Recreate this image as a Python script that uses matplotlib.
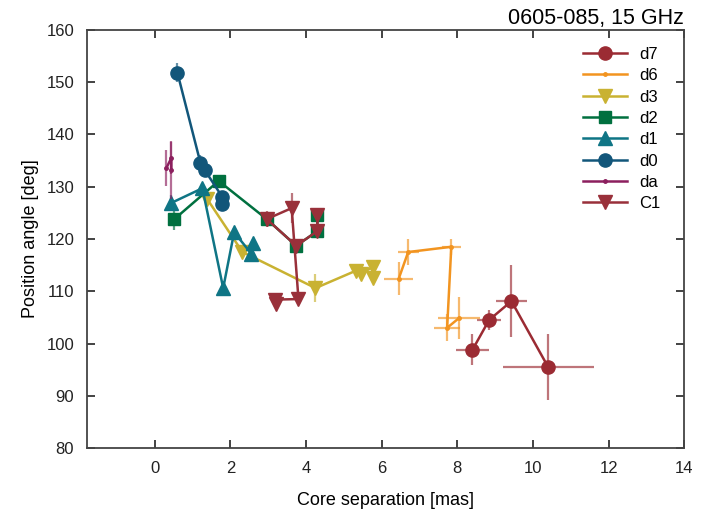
import matplotlib
matplotlib.use('Agg')
import matplotlib.pyplot as plt

plt.rcParams['font.family'] = ['Liberation Sans', 'DejaVu Sans']

# component data: core separation [mas], position angle [deg], errors
d7_x = [8.40, 8.84, 9.43, 10.40]
d7_y = [98.8, 104.5, 108.1, 95.5]
d7_xerr = [0.44, 0.32, 0.40, 1.20]
d7_yerr = [3.0, 2.0, 6.9, 6.4]

d6_x = [6.45, 6.70, 7.84, 7.73, 8.05]
d6_y = [112.4, 117.5, 118.5, 103.0, 104.9]
d6_xerr = [0.38, 0.28, 0.25, 0.35, 0.55]
d6_yerr = [3.2, 2.4, 1.5, 2.6, 4.0]

d3_x = [1.39, 2.32, 4.25, 5.31, 5.44, 5.78, 5.78]
d3_y = [127.6, 117.5, 110.6, 113.9, 113.3, 114.7, 112.6]
d3_yerr = [0.8, 0.8, 2.7, 0.8, 0.8, 0.8, 0.8]

d2_x = [0.52, 1.69, 2.96, 3.74, 4.30, 4.30]
d2_y = [123.8, 131.1, 123.8, 118.7, 121.5, 124.6]
d2_yerr = [2.0, 0.8, 1.0, 0.8, 1.0, 1.0]

d1_x = [0.44, 1.26, 1.81, 2.10, 2.55, 2.60]
d1_y = [126.9, 129.7, 110.6, 121.3, 117.2, 119.2]
d1_yerr = [1.5, 1.0, 0.8, 0.8, 1.5, 0.8]

d0_x = [0.60, 1.21, 1.32, 1.79, 1.79]
d0_y = [151.8, 134.5, 133.2, 128.0, 126.6]
d0_yerr = [1.8, 1.5, 1.0, 1.0, 1.0]

da_x = [0.31, 0.44, 0.44]
da_y = [133.6, 135.5, 133.2]
da_yerr = [3.5, 3.0, 5.5]

c1_x = [3.20, 3.19, 3.80, 3.62, 2.96, 3.74, 4.30, 4.30]
c1_y = [107.5, 108.4, 108.5, 125.9, 123.8, 118.7, 121.5, 124.6]
c1_yerr = [0.8, 0.8, 0.8, 2.8, 1.5, 0.8, 1.0, 0.8]

fig = plt.figure(figsize=(7.28, 5.15), dpi=100)
ax = fig.add_axes([0.119, 0.130, 0.821, 0.812])

series = [
    ('d7', d7_x, d7_y, d7_xerr, d7_yerr, '#9b2b33', 'o', 9.5),
    ('d6', d6_x, d6_y, d6_xerr, d6_yerr, '#f29420', '.', 5),
    ('d3', d3_x, d3_y, None, d3_yerr, '#c9b232', 'v', 9.5),
    ('d2', d2_x, d2_y, None, d2_yerr, '#00703f', 's', 8.5),
    ('d1', d1_x, d1_y, None, d1_yerr, '#0f7585', '^', 9.5),
    ('d0', d0_x, d0_y, None, d0_yerr, '#12567a', 'o', 9.5),
    ('da', da_x, da_y, None, da_yerr, '#8c1f5e', '.', 5),
    ('C1', c1_x, c1_y, None, c1_yerr, '#99303a', 'v', 9.5),
]

for name, x, y, xe, ye, c, m, ms in series:
    ax.errorbar(x, y, xerr=xe, yerr=ye, fmt='none', ecolor=c, alpha=0.65,
                elinewidth=1.6, capsize=0)
    ax.plot(x, y, color=c, marker=m, markersize=ms, linewidth=1.8, label=name)

ax.legend(loc='upper right', frameon=False, fontsize=12, handlelength=2.6,
          labelspacing=0.38, handletextpad=0.75,
          bbox_to_anchor=(0.985, 0.995))

ax.set_xlim(-1.8, 14)
ax.set_ylim(80, 160)
ax.set_xticks([0, 2, 4, 6, 8, 10, 12, 14])
ax.set_yticks([80, 90, 100, 110, 120, 130, 140, 150, 160])
ax.tick_params(direction='in', length=6, width=1.2, top=True, right=True,
               labelsize=12, colors='#222222', pad=9)
for s in ax.spines.values():
    s.set_color('#444444')
    s.set_linewidth(1.3)

ax.set_xlabel('Core separation [mas]', fontsize=13, labelpad=12)
ax.set_ylabel('Position angle [deg]', fontsize=13, labelpad=5)
ax.set_title('0605-085, 15 GHz', loc='right', fontsize=15.5, pad=4)

fig.savefig('out.png', dpi=100)
